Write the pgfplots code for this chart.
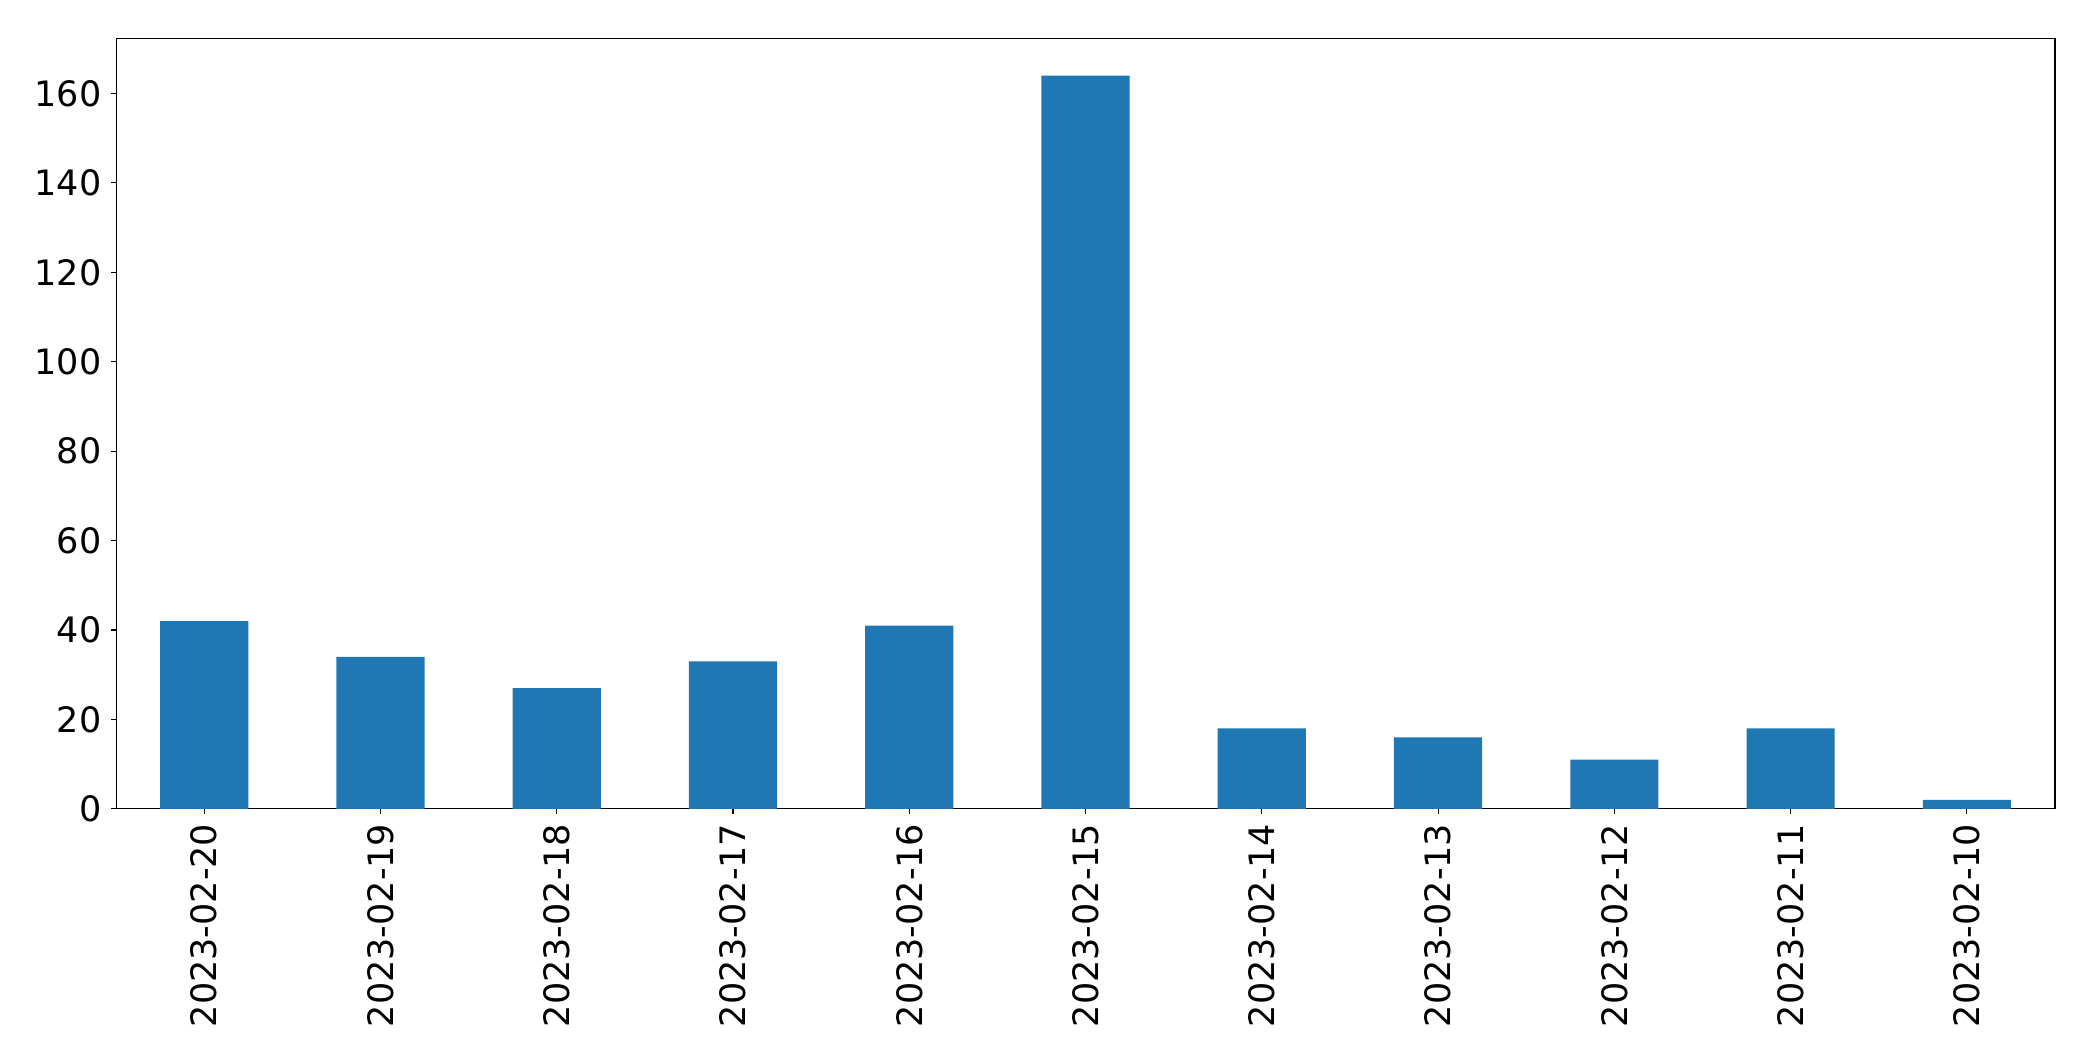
\documentclass[border=0pt]{standalone}
\usepackage{pgfplots}
\pgfplotsset{compat=1.18}
\usepackage{fontspec}
\setmainfont{DejaVu Sans}
\definecolor{mplblue}{HTML}{1F77B4}
\begin{document}
\begin{tikzpicture}
\begin{axis}[
  scale only axis,
  width=698pt, height=277.2pt,
  xmin=-0.5, xmax=10.5,
  ymin=0, ymax=172.2,
  ytick={0,20,...,160},
  xtick=data,
  xticklabels={2023-02-20,2023-02-19,2023-02-18,2023-02-17,2023-02-16,2023-02-15,2023-02-14,2023-02-13,2023-02-12,2023-02-11,2023-02-10},
  x tick label style={rotate=90, anchor=east},
  tick label style={font=\fontsize{12.6}{14}\selectfont},
  /pgf/number format/assume math mode=true,
  tick align=outside,
  major tick length=1.8pt,
  xtick pos=bottom, ytick pos=left,
  axis line style={line width=0.4pt},
  tick style={line width=0.4pt, black},
  clip=false,
]
\addplot[ybar, bar width=0.5, fill=mplblue, draw=none] coordinates {
  (0,42) (1,34) (2,27) (3,33) (4,41) (5,164) (6,18) (7,16) (8,11) (9,18) (10,2)
};
\coordinate (bl) at (rel axis cs:0,0);
\coordinate (tr) at (rel axis cs:1,1);
\end{axis}
\pgfresetboundingbox
\useasboundingbox ([shift={(-41.8pt,-90.7pt)}]bl) rectangle ([shift={(13.7pt,14pt)}]tr);
\end{tikzpicture}
\end{document}
